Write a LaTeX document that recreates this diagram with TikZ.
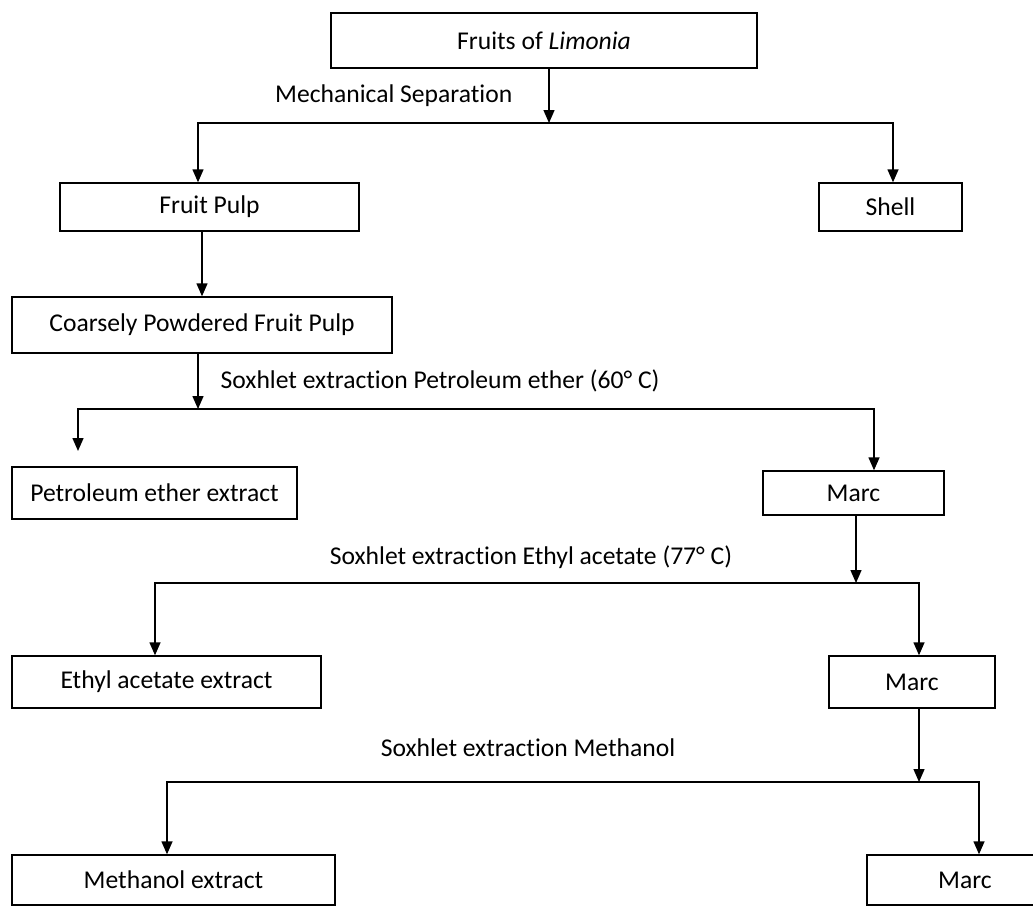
\documentclass[tikz,border=0pt]{standalone}
\usepackage{fontspec}
\setmainfont{Carlito}[Ligatures=NoCommon]
\usetikzlibrary{arrows.meta,positioning,calc}

\begin{document}
\begin{tikzpicture}[x=0.5pt, y=-0.5pt, line width=0.7pt, >={Triangle[length=6.5pt,width=5.5pt]},
    box/.style={draw, rectangle, inner sep=0pt, align=center, font=\fontsize{12.8}{15}\selectfont},
    lbl/.style={inner sep=2pt, font=\fontsize{12.8}{15}\selectfont}]
    \useasboundingbox (0,0) rectangle (1033,905);
    \clip (0,0) rectangle (1033,905);

    % boxes
    \node [box, minimum width=213pt, minimum height=27.5pt] (fruits) at (544,40.5) {Fruits of \textit{Limonia}};
    \node [box, minimum width=149.5pt, minimum height=24pt] (pulp) at (209.5,207) {Fruit Pulp};
    \node [box, minimum width=71.5pt, minimum height=24pt] (shell) at (890.5,207) {Shell};
    \node [box, minimum width=190pt, minimum height=28pt] (coarse) at (202,325) {Coarsely Powdered Fruit Pulp};
    \node [box, minimum width=142.5pt, minimum height=26pt] (petrol) at (154.5,493) {Petroleum ether extract};
    \node [box, minimum width=90.5pt, minimum height=22pt] (marcA) at (853.5,493) {Marc};
    \node [box, minimum width=154.5pt, minimum height=26pt] (ethyl) at (166.5,682) {Ethyl acetate extract};
    \node [box, minimum width=83pt, minimum height=26pt] (marcB) at (912,682) {Marc};
    \node [box, minimum width=161.5pt, minimum height=25pt] (methanol) at (173.5,880) {Methanol extract};
    \node [box, minimum width=98pt, minimum height=25pt] (marcC) at (965,880) {Marc};

    % split points
    \coordinate (s1) at (549,123);
    \coordinate (s2) at (198,409);
    \coordinate (p1) at (78,451);
    \coordinate (s3) at (856,583);
    \coordinate (s4) at (919,782);

    % mechanical separation
    \draw [->] (fruits.south -| s1) -- node[lbl, midway, left=16pt] {Mechanical Separation} (s1);
    \draw [->] (s1) -| ([xshift=-5.75pt]pulp.north);
    \draw [->] (s1) -| ([xshift=1.25pt]shell.north);
    \draw [->] (coarse.north |- pulp.south) -- (coarse.north);

    % petroleum ether
    \draw [->] (coarse.south -| s2) -- node[lbl, midway, right=9pt] {Soxhlet extraction Petroleum ether (60° C)} (s2);
    \draw [->] (s2) -| (p1);
    \draw [->] (s2) -| ([xshift=10.25pt]marcA.north);

    % ethyl acetate
    \node [lbl] (lblEthyl) at (531,557) {Soxhlet extraction Ethyl acetate (77° C)};
    \draw [->] (marcA.south -| s3) -- (s3);
    \draw [->] (s3) -| ([xshift=-5.75pt]ethyl.north);
    \draw [->] (s3) -| ([xshift=3.5pt]marcB.north);

    % methanol
    \node [lbl] (lblMeth) at (528,748) {Soxhlet extraction Methanol};
    \draw [->] (marcB.south -| s4) -- (s4);
    \draw [->] (s4) -| ([xshift=-3.25pt]methanol.north);
    \draw [->] (s4) -| ([xshift=7pt]marcC.north);
\end{tikzpicture}
\end{document}
